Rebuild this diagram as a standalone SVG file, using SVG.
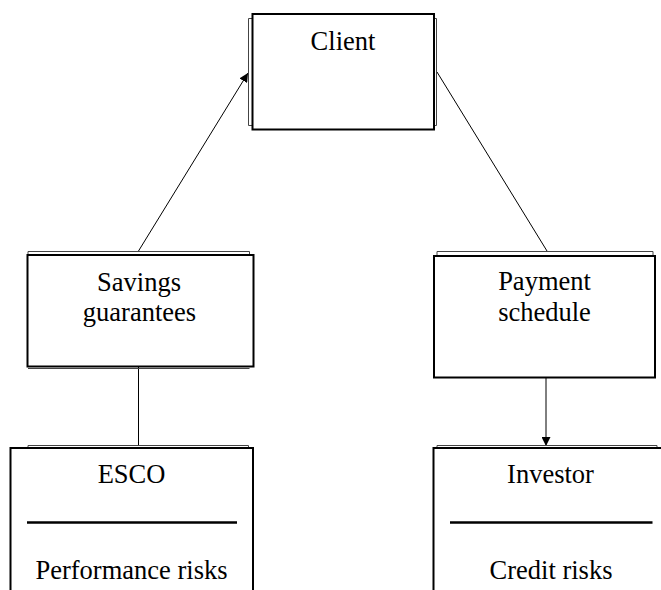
<svg xmlns="http://www.w3.org/2000/svg" width="661" height="590" viewBox="0 0 661 590">
  <style>
    .box { fill: #fff; stroke: #000; stroke-width: 2; }
    .edge { fill: none; stroke: #000; stroke-width: 2; }
    .shadow { fill: none; stroke: #444; stroke-width: 1; }
    .rule { stroke: #000; stroke-width: 2.5; }
    .label { font-family: "Liberation Serif", "Times New Roman", serif; font-size: 26.5px; fill: #000; text-anchor: middle; }
    .conn { fill: none; stroke: #000; stroke-width: 1; }
  </style>
  <defs>
    <marker id="arrow" viewBox="0 0 10 10" refX="10" refY="5" markerWidth="9" markerHeight="9" markerUnits="userSpaceOnUse" orient="auto">
      <path d="M0,0 L10,5 L0,10 z" fill="#000"/>
    </marker>
  </defs>
  <rect width="661" height="590" fill="#fff"/>

  <g id="connectors">
    <line class="conn" x1="138.5" y1="251" x2="248" y2="73" marker-end="url(#arrow)"/>
    <line class="conn" x1="437" y1="72" x2="547" y2="251"/>
    <line class="conn" x1="138.5" y1="367" x2="138.5" y2="446"/>
    <line class="conn" x1="546" y1="378" x2="546" y2="446" marker-end="url(#arrow)"/>
  </g>

  <g id="client">
    <path class="shadow" d="M252,18.5 H248.5 V125.5 H252"/>
    <path class="shadow" d="M434,18.5 H436.5 V125.5 H434"/>
    <rect class="box" x="252.5" y="14" width="181.5" height="115.5"/>
    <text class="label" x="343" y="50">Client</text>
  </g>

  <g id="savings">
    <path class="shadow" d="M28,255 V251.5 H249.5 V255"/>
    <path class="shadow" d="M28,368.5 H249.5"/>
    <rect class="box" x="27.5" y="255" width="226" height="111.5"/>
    <text class="label" x="139" y="290.5">Savings</text>
    <text class="label" x="139.5" y="321">guarantees</text>
  </g>

  <g id="payment">
    <path class="shadow" d="M437,256 V251.5 H653 V256"/>
    <rect class="box" x="434" y="256" width="221" height="121.5"/>
    <text class="label" x="544.5" y="290">Payment</text>
    <text class="label" x="544.5" y="321">schedule</text>
  </g>

  <g id="esco">
    <path class="shadow" d="M28,448 V445.5 H248.5 V448"/>
    <path class="edge" d="M10.5,600 V448 H253 V600"/>
    <line class="rule" x1="27" y1="522.5" x2="237" y2="522.5"/>
    <text class="label" x="131.5" y="483">ESCO</text>
    <text class="label" x="131.5" y="579">Performance risks</text>
  </g>

  <g id="investor">
    <path class="shadow" d="M437,448 V445.5 H657 V448"/>
    <path class="edge" d="M433.5,600 V448 H670"/>
    <line class="rule" x1="450" y1="522.5" x2="652.5" y2="522.5"/>
    <text class="label" x="550.5" y="482.5">Investor</text>
    <text class="label" x="551" y="579">Credit risks</text>
  </g>
</svg>
